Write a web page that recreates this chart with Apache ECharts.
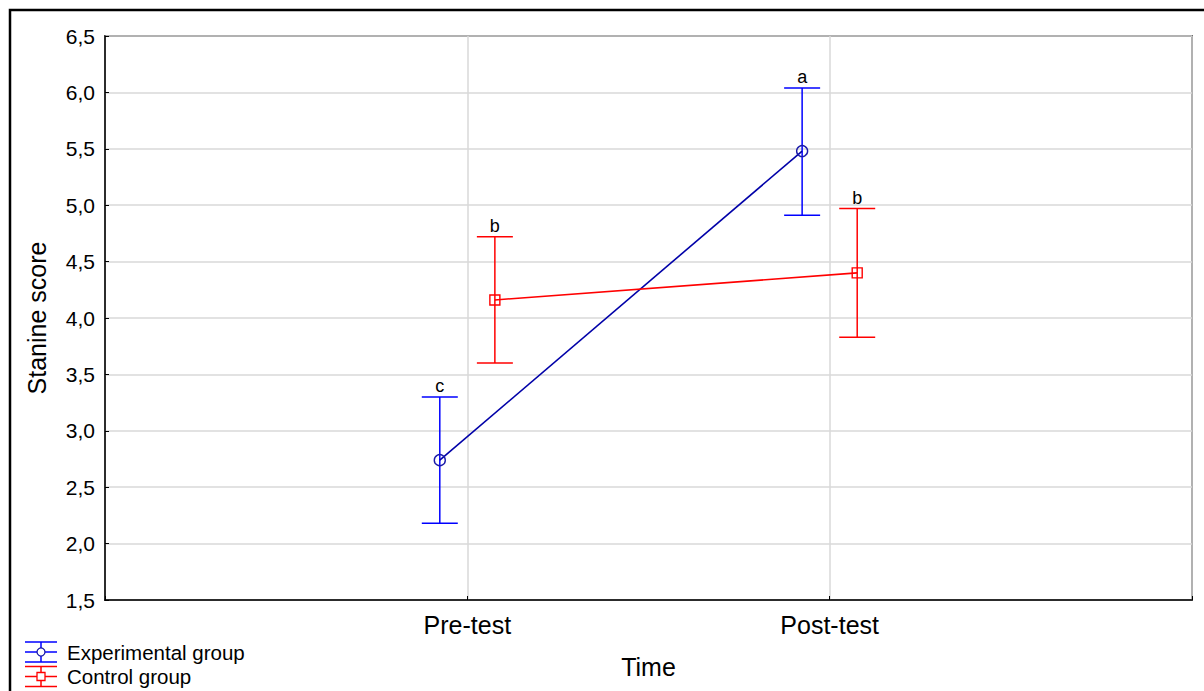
<!DOCTYPE html>
<html>
<head>
<meta charset="utf-8">
<script src="https://cdn.jsdelivr.net/npm/echarts@6/dist/echarts.min.js"></script>
<style>
html,body{margin:0;padding:0;background:#fff;}
#chart{width:1204px;height:691px;}
</style>
</head>
<body>
<div id="chart"></div>
<script>
// ---- data ----
const categories = ['Pre-test', 'Post-test'];
const seriesNames = ['Experimental group', 'Control group'];
const expMean = [2.74, 5.48];
const expLow = [2.18, 4.91];
const expHigh = [3.30, 6.04];
const expLetters = ['c', 'a'];
const ctlMean = [4.16, 4.40];
const ctlLow = [3.60, 3.83];
const ctlHigh = [4.72, 4.97];
const ctlLetters = ['b', 'b'];
const yMin = 1.5, yMax = 6.5, yStep = 0.5;
const xAxisTitle = 'Time';
const yAxisTitle = 'Stanine score';

// ---- style ----
const FONT = '"Liberation Sans", Arial, sans-serif';
const OFFSET = 0.076; // horizontal dodge in category units
const groups = [
  {name: seriesNames[0], mean: expMean, low: expLow, high: expHigh, letters: expLetters,
   off: -OFFSET, lineColor: '#0000a8', barColor: '#0000ff', markColor: '#1a1aa8', symbol: 'circle'},
  {name: seriesNames[1], mean: ctlMean, low: ctlLow, high: ctlHigh, letters: ctlLetters,
   off: OFFSET, lineColor: '#ff0000', barColor: '#ff0000', markColor: '#ff0000', symbol: 'rect'}
];

const chart = echarts.init(document.getElementById('chart'), null, {renderer: 'svg'});

const series = [];
groups.forEach(g => {
  series.push({
    type: 'custom',
    name: g.name + ' CI',
    z: 2,
    silent: true,
    data: categories.map((c, i) => [i + 1 + g.off, g.low[i], g.high[i], g.letters[i]]),
    encode: {x: 0, y: [1, 2]},
    renderItem: function (params, api) {
      const x = api.value(0);
      const lo = api.coord([x, api.value(1)]);
      const hi = api.coord([x, api.value(2)]);
      const hw = 18;
      const st = {stroke: g.barColor, lineWidth: 1.5};
      return {
        type: 'group',
        children: [
          {type: 'line', shape: {x1: lo[0], y1: lo[1], x2: hi[0], y2: hi[1]}, style: st},
          {type: 'line', shape: {x1: lo[0] - hw, y1: lo[1], x2: lo[0] + hw, y2: lo[1]}, style: st},
          {type: 'line', shape: {x1: hi[0] - hw, y1: hi[1], x2: hi[0] + hw, y2: hi[1]}, style: st},
          {type: 'text', x: hi[0], y: hi[1] - 2,
           style: {text: api.value(3), fill: '#000', font: '18px ' + FONT, align: 'center', verticalAlign: 'bottom'}}
        ]
      };
    }
  });
  series.push({
    type: 'line',
    name: g.name,
    z: 3,
    data: categories.map((c, i) => [i + 1 + g.off, g.mean[i]]),
    lineStyle: {color: g.lineColor, width: 1.6},
    symbol: g.symbol,
    symbolSize: g.symbol === 'circle' ? 11 : 10,
    itemStyle: {color: 'rgba(255,255,255,0)', borderColor: g.markColor, borderWidth: 1.4},
    silent: true,
    animation: false
  });
});

// legend drawn as graphic from the series names
const legendGraphic = [];
groups.forEach((g, k) => {
  const cy = 652 + k * 24.5;
  const x0 = 25, x1 = 57, xm = 41;
  const st = {stroke: g.barColor, lineWidth: 1.5};
  legendGraphic.push(
    {type: 'line', shape: {x1: x0, y1: cy - 10, x2: x1, y2: cy - 10}, style: st},
    {type: 'line', shape: {x1: x0, y1: cy, x2: x1, y2: cy}, style: st},
    {type: 'line', shape: {x1: x0, y1: cy + 10, x2: x1, y2: cy + 10}, style: st},
    {type: 'line', shape: {x1: xm, y1: cy - 10, x2: xm, y2: cy + 10}, style: st},
    g.symbol === 'circle'
      ? {type: 'circle', shape: {cx: xm, cy: cy, r: 4}, style: {fill: '#fff', stroke: g.markColor, lineWidth: 1.3}}
      : {type: 'rect', shape: {x: xm - 4, y: cy - 4, width: 8, height: 8}, style: {fill: '#fff', stroke: g.markColor, lineWidth: 1.3}},
    {type: 'text', x: 67, y: cy, style: {text: g.name, fill: '#000', font: '20.5px ' + FONT, verticalAlign: 'middle'}}
  );
});

const option = {
  backgroundColor: '#fff',
  animation: false,
  textStyle: {fontFamily: FONT},
  grid: {left: 105, right: 12, top: 36, bottom: 91, show: true, borderColor: '#000', borderWidth: 1.5, backgroundColor: 'transparent'},
  xAxis: {
    type: 'value', min: 0, max: categories.length + 1, interval: 1,
    name: xAxisTitle, nameLocation: 'middle', nameGap: 54,
    nameTextStyle: {fontSize: 25, color: '#000', fontFamily: FONT},
    axisLine: {show: true, lineStyle: {color: '#000', width: 1.5}},
    axisTick: {show: true, inside: true, length: 4, lineStyle: {color: '#000'}},
    axisLabel: {
      fontSize: 25, color: '#000', margin: 12, fontFamily: FONT,
      formatter: v => (v >= 1 && v <= categories.length) ? categories[Math.round(v) - 1] : ''
    },
    splitLine: {show: true, lineStyle: {color: '#d9d9d9', width: 1.5}}
  },
  yAxis: {
    type: 'value', min: yMin, max: yMax, interval: yStep,
    name: yAxisTitle, nameLocation: 'middle', nameGap: 56,
    nameTextStyle: {fontSize: 25, color: '#000', fontFamily: FONT},
    axisLine: {show: true, lineStyle: {color: '#000', width: 1.5}},
    axisTick: {show: true, inside: true, length: 4, lineStyle: {color: '#000'}},
    axisLabel: {fontSize: 21, color: '#000', margin: 10, fontFamily: FONT,
      formatter: v => v.toFixed(1).replace('.', ',')},
    splitLine: {show: true, lineStyle: {color: '#d9d9d9', width: 1.5}}
  },
  graphic: [
    {type: 'rect', shape: {x: 10, y: 10, width: 1210, height: 710}, style: {fill: 'none', stroke: '#000', lineWidth: 2.5}, silent: true},
    ...legendGraphic
  ],
  series: series
};
chart.setOption(option);
</script>
</body>
</html>
